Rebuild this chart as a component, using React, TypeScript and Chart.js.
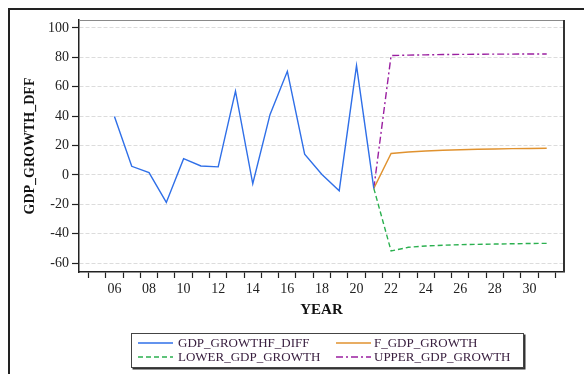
import React, { useEffect, useRef } from "react";
import { Chart, registerables } from "chart.js";

Chart.register(...registerables);

// ---- data ----
const histYears = [6, 7, 8, 9, 10, 11, 12, 13, 14, 15, 16, 17, 18, 19, 20, 21];
const gdpGrowthDiff = [39.8, 5.9, 1.6, -18.7, 11.1, 6.1, 5.5, 57.0, -6.0, 41.2, 70.5, 14.1, 0.3, -10.7, 74.4, -9.1];
const fcYears = [21, 22, 23, 24, 25, 26, 27, 28, 29, 30, 31];
const fGdpGrowth = [-9.1, 14.6, 15.6, 16.3, 16.8, 17.2, 17.5, 17.7, 17.9, 18.0, 18.2];
const lowerGdpGrowth = [-9.1, -51.7, -49.2, -48.3, -47.8, -47.4, -47.2, -47.0, -46.8, -46.6, -46.5];
const upperGdpGrowth = [-9.1, 81.2, 81.5, 81.7, 81.9, 82.0, 82.1, 82.2, 82.2, 82.3, 82.3];
const yTickValues = [-60, -40, -20, 0, 20, 40, 60, 80, 100];
const xLabelYears = [6, 8, 10, 12, 14, 16, 18, 20, 22, 24, 26, 28, 30];
const xTickMarks = [4.5, 5.5, 6.5, 7.5, 8.5, 9.5, 10.5, 11.5, 12.5, 13.5, 14.5, 15.5, 16.5, 17.5, 18.5, 19.5, 20.5, 21.5, 22.5, 23.5, 24.5, 25.5, 26.5, 27.5, 28.5, 29.5, 30.5, 31.5];

const seriesNames = ["GDP_GROWTHF_DIFF", "F_GDP_GROWTH", "LOWER_GDP_GROWTH", "UPPER_GDP_GROWTH"];
const seriesColors = ["#2f6fe8", "#e0922f", "#2bb04f", "#9a1fa0"];
const seriesDash: number[][] = [[], [], [5, 3], [7, 3, 2, 3]];

const SERIF = '"Liberation Serif", "Times New Roman", serif';

const W = 584;
const H = 374;

const plotFrame = {
  id: "plotFrame",
  afterDraw(chart: any) {
    const { ctx, chartArea } = chart;
    ctx.save();
    ctx.strokeStyle = "#8a8a8a";
    ctx.lineWidth = 1;
    ctx.beginPath();
    ctx.moveTo(chartArea.left, chartArea.top + 0.5);
    ctx.lineTo(chartArea.right, chartArea.top + 0.5);
    ctx.stroke();
    ctx.strokeStyle = "#333";
    ctx.lineWidth = 2;
    ctx.beginPath();
    ctx.moveTo(chartArea.right, chartArea.top);
    ctx.lineTo(chartArea.right, chartArea.bottom);
    ctx.stroke();
    ctx.restore();
  },
};

function toPoints(xs: number[], ys: number[]) {
  return xs.map((x, i) => ({ x, y: ys[i] }));
}

export default function App() {
  const canvasRef = useRef<HTMLCanvasElement | null>(null);

  useEffect(() => {
    const canvas = canvasRef.current;
    if (!canvas) return;
    const seriesData = [
      toPoints(histYears, gdpGrowthDiff),
      toPoints(fcYears, fGdpGrowth),
      toPoints(fcYears, lowerGdpGrowth),
      toPoints(fcYears, upperGdpGrowth),
    ];
    const padLeft = 21.6;
    const padBottom = 54.6;
    const chart = new Chart(canvas, {
      type: "line",
      data: {
        datasets: seriesData.map((d, i) => ({
          label: seriesNames[i],
          data: d,
          borderColor: seriesColors[i],
          backgroundColor: seriesColors[i],
          borderWidth: 1.4,
          borderDash: seriesDash[i],
          pointRadius: 0,
          tension: 0,
          fill: false,
        })),
      },
      options: {
        animation: false,
        responsive: false,
        maintainAspectRatio: false,
        devicePixelRatio: 1,
        layout: { padding: { left: padLeft, top: 20, right: 20, bottom: padBottom } },
        plugins: { legend: { display: false }, tooltip: { enabled: false } },
        scales: {
          x: {
            type: "linear",
            min: 3.95,
            max: 32,
            afterBuildTicks: (s: any) => {
              const vals = [...xTickMarks, ...xLabelYears].sort((a, b) => a - b);
              s.ticks = vals.map((v) => ({ value: v }));
            },
            afterFit: (s: any) => {
              s.height = 47.4;
            },
            grid: {
              drawOnChartArea: false,
              tickLength: 6,
              tickWidth: 1.2,
              tickColor: (c: any) =>
                c.tick && Math.abs((c.tick.value % 1) - 0.5) < 0.01 ? "#222" : "rgba(0,0,0,0)",
            },
            border: { color: "#222", width: 1.5 },
            ticks: {
              autoSkip: false,
              maxRotation: 0,
              minRotation: 0,
              padding: 3,
              color: "#222",
              font: { family: SERIF, size: 14 },
              callback: (v: any) => {
                const n = Number(v);
                return xLabelYears.includes(n) ? String(n).padStart(2, "0") : "";
              },
            },
            title: {
              display: true,
              text: "YEAR",
              color: "#111",
              padding: 0,
              font: { family: SERIF, size: 15, weight: "bold" },
            },
          },
          y: {
            type: "linear",
            min: -66,
            max: 105.4,
            afterBuildTicks: (s: any) => {
              s.ticks = yTickValues.map((v) => ({ value: v }));
            },
            afterFit: (s: any) => {
              s.width = 79 - padLeft;
            },
            grid: {
              color: "#dcdcdc",
              lineWidth: 1,
              tickColor: "#222",
              tickLength: 7,
              tickWidth: 1.2,
            },
            border: { color: "#222", width: 1.5, dash: [4, 2] },
            ticks: {
              padding: 3,
              color: "#222",
              font: { family: SERIF, size: 14 },
            },
            title: {
              display: true,
              text: "GDP_GROWTH_DFF",
              color: "#111",
              padding: 0,
              font: { family: SERIF, size: 14, weight: "bold" },
            },
          },
        },
      },
      plugins: [plotFrame],
    } as any);
    return () => chart.destroy();
  }, []);

  const legendItems = [
    { i: 0, lineX: 6, textX: 46, y: 8.7 },
    { i: 1, lineX: 204, textX: 242, y: 8.7 },
    { i: 2, lineX: 6, textX: 46, y: 22.7 },
    { i: 3, lineX: 204, textX: 242, y: 22.7 },
  ];

  return (
    <div style={{ position: "fixed", left: 0, top: 0, width: W, height: H, background: "#fff", overflow: "hidden" }}>
      <div
        style={{
          position: "absolute",
          left: 8,
          top: 8,
          width: W,
          height: H,
          borderTop: "2px solid #222",
          borderLeft: "2px solid #222",
        }}
      />
      <canvas ref={canvasRef} width={W} height={H} style={{ position: "absolute", left: 0, top: 0, width: W, height: H }} />
      <div
        style={{
          position: "absolute",
          left: 131,
          top: 333,
          width: 391,
          height: 33,
          border: "1px solid #444",
          boxShadow: "1.5px 1.5px 0 #333",
          background: "#fff",
          fontFamily: SERIF,
          fontSize: 13,
          color: "#3a2040",
        }}
      >
        {legendItems.map((it) => (
          <React.Fragment key={it.i}>
            <svg
              width={36}
              height={4}
              style={{ position: "absolute", left: it.lineX, top: it.y - 2 }}
            >
              <line
                x1={0}
                y1={2}
                x2={35}
                y2={2}
                stroke={seriesColors[it.i]}
                strokeWidth={1.4}
                strokeDasharray={seriesDash[it.i].length ? seriesDash[it.i].join(",") : undefined}
              />
            </svg>
            <div
              style={{
                position: "absolute",
                left: it.textX,
                top: it.y - 8,
                height: 16,
                lineHeight: "16px",
                whiteSpace: "nowrap",
              }}
            >
              {seriesNames[it.i]}
            </div>
          </React.Fragment>
        ))}
      </div>
    </div>
  );
}
